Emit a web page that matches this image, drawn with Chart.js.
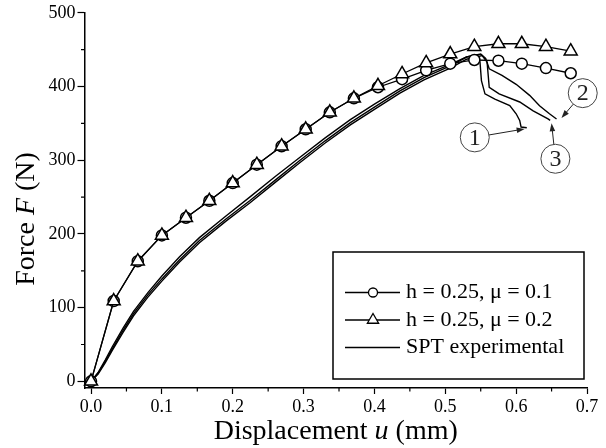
<!DOCTYPE html>
<html>
<head>
<meta charset="utf-8">
<script src="https://cdn.jsdelivr.net/npm/chart.js@4.4.1/dist/chart.umd.min.js"></script>
<style>
  html, body { margin: 0; padding: 0; background: #fff; }
  #wrap { width: 606px; height: 448px; }
</style>
</head>
<body>
<div id="wrap"><canvas id="forceChart" width="606" height="448"></canvas></div>
<script>
// FE results, sampled at the marker positions (mm / N)
const dispSim   = [0, 0.032, 0.066, 0.100, 0.134, 0.167, 0.200, 0.234, 0.269, 0.303, 0.337,
                   0.371, 0.405, 0.439, 0.473, 0.507, 0.541, 0.575, 0.608, 0.642, 0.677];
const forceMu01 = [0, 109, 163, 198, 222, 245, 269, 294, 319, 342, 365,
                   384, 399, 410, 422, 431, 436, 435, 431, 425, 418];
const forceMu02 = [0, 109, 163, 198, 222, 245, 269, 294, 319, 342, 365,
                   384, 401, 417, 432, 444, 454, 458, 458, 454, 448];

// small punch test records (three specimens)
const dispExp1  = [0, 0.010, 0.020, 0.030, 0.045, 0.060, 0.080, 0.100, 0.125, 0.153, 0.190, 0.224, 0.260,
                   0.295, 0.330, 0.366, 0.400, 0.436, 0.470, 0.507, 0.530, 0.545, 0.549, 0.551, 0.556,
                   0.570, 0.591, 0.600, 0.605, 0.607, 0.615];
const forceExp1 = [0, 11, 27, 44, 69, 92, 117, 139, 165, 191, 220, 245, 273,
                   300, 326, 351, 372, 394, 412, 428, 440, 443, 433, 408, 390,
                   383, 374, 363, 354, 345, 344];
const dispExp2  = [0, 0.010, 0.020, 0.030, 0.045, 0.060, 0.080, 0.100, 0.125, 0.153, 0.190, 0.224, 0.260,
                   0.295, 0.330, 0.366, 0.400, 0.436, 0.470, 0.507, 0.530, 0.550, 0.557, 0.562, 0.580,
                   0.600, 0.619, 0.633, 0.647, 0.657];
const forceExp2 = [0, 12, 29, 47, 72, 95, 120, 143, 169, 195, 224, 250, 278,
                   304, 330, 355, 376, 397, 415, 430, 440, 444, 438, 424, 415,
                   403, 388, 374, 363, 356];
const dispExp3  = [0, 0.010, 0.020, 0.030, 0.045, 0.060, 0.080, 0.100, 0.125, 0.153, 0.190, 0.224, 0.260,
                   0.295, 0.330, 0.366, 0.400, 0.436, 0.470, 0.507, 0.530, 0.552, 0.559, 0.562, 0.576,
                   0.605, 0.624, 0.645, 0.648];
const forceExp3 = [0, 10, 25, 42, 66, 89, 114, 136, 162, 188, 217, 242, 270,
                   297, 323, 348, 369, 391, 409, 425, 437, 442, 433, 399, 390,
                   379, 367, 356, 354];

const xTicks = [0, 0.1, 0.2, 0.3, 0.4, 0.5, 0.6, 0.7];
const xMinor = [0.05, 0.15, 0.25, 0.35, 0.45, 0.55, 0.65];
const yTicks = [0, 100, 200, 300, 400, 500];
const yMinor = [50, 150, 250, 350, 450];

const seriesLabels = ['h = 0.25, \u03bc = 0.1', 'h = 0.25, \u03bc = 0.2', 'SPT experimental'];

// numbered callouts for the three test curves (data units)
const callouts = [
  { n: '1', at: [0.5416, 331], tip: [0.612, 342.5] },
  { n: '2', at: [0.694, 391],  tip: [0.664, 357.4] },
  { n: '3', at: [0.6554, 302], tip: [0.650, 350] }
];

const SERIF = '"Liberation Serif", "DejaVu Serif", serif';

function pts(xs, ys) {
  return xs.map((x, i) => ({ x: x, y: ys[i] }));
}

function expLine(xs, ys) {
  return {
    data: pts(xs, ys),
    borderColor: '#000',
    borderWidth: 1.4,
    pointRadius: 0,
    fill: false,
    tension: 0,
    order: 3
  };
}

// short minor ticks between the labelled ones
const minorTicks = {
  id: 'minorTicks',
  afterDraw(chart) {
    const ctx = chart.ctx, a = chart.chartArea;
    const xs = chart.scales.x, ys = chart.scales.y;
    ctx.save();
    ctx.strokeStyle = '#000';
    ctx.lineWidth = 1.2;
    ctx.beginPath();
    xMinor.forEach(v => {
      const px = xs.getPixelForValue(v);
      ctx.moveTo(px, a.bottom);
      ctx.lineTo(px, a.bottom + 3.5);
    });
    yMinor.forEach(v => {
      const py = ys.getPixelForValue(v);
      ctx.moveTo(a.left, py);
      ctx.lineTo(a.left - 3.5, py);
    });
    ctx.stroke();
    ctx.restore();
  }
};

// draw a run of text pieces, some italic, centred on 0
function drawPieces(ctx, pieces, size) {
  let total = 0;
  pieces.forEach(p => {
    ctx.font = (p.it ? 'italic ' : '') + size + 'px ' + SERIF;
    p.w = ctx.measureText(p.t).width;
    total += p.w;
  });
  let x = -total / 2;
  pieces.forEach(p => {
    ctx.font = (p.it ? 'italic ' : '') + size + 'px ' + SERIF;
    ctx.fillText(p.t, x, 0);
    x += p.w;
  });
}

const axisTitles = {
  id: 'axisTitles',
  afterDraw(chart) {
    const ctx = chart.ctx, a = chart.chartArea;
    ctx.save();
    ctx.fillStyle = '#000';
    ctx.textBaseline = 'middle';
    ctx.textAlign = 'left';
    ctx.save();
    ctx.translate((a.left + a.right) / 2, 432);
    drawPieces(ctx, [{ t: 'Displacement ' }, { t: 'u', it: true }, { t: ' (mm)' }], 28);
    ctx.restore();
    ctx.save();
    ctx.translate(27, 219);
    ctx.rotate(-Math.PI / 2);
    drawPieces(ctx, [{ t: 'Force ' }, { t: 'F', it: true }, { t: ' (N)' }], 28);
    ctx.restore();
    ctx.restore();
  }
};

function marker(ctx, style, x, y, r) {
  ctx.beginPath();
  if (style === 'circle') {
    ctx.arc(x, y, r, 0, Math.PI * 2);
  } else {
    for (let k = 0; k < 3; k++) {
      const ang = k * 2 * Math.PI / 3;
      const px = x + Math.sin(ang) * r, py = y - Math.cos(ang) * r;
      if (k === 0) ctx.moveTo(px, py); else ctx.lineTo(px, py);
    }
    ctx.closePath();
  }
  ctx.fillStyle = '#fff';
  ctx.fill();
  ctx.stroke();
}

const legendBox = {
  id: 'legendBox',
  afterDraw(chart) {
    const ctx = chart.ctx, a = chart.chartArea;
    const right = a.right - 3, bottom = a.bottom - 9;
    const left = right - 251, top = bottom - 127;
    ctx.save();
    ctx.strokeStyle = '#000';
    ctx.lineWidth = 1.5;
    ctx.fillStyle = '#fff';
    ctx.fillRect(left, top, right - left, bottom - top);
    ctx.strokeRect(left, top, right - left, bottom - top);
    const styles = ['circle', 'triangle', null];
    const sizes = [4.5, 6.5, 0];
    styles.forEach((st, i) => {
      const y = top + 40.5 + i * 27.5;
      ctx.lineWidth = 1.3;
      ctx.beginPath();
      ctx.moveTo(left + 12, y);
      ctx.lineTo(left + 67, y);
      ctx.stroke();
      if (st) marker(ctx, st, left + 40, y, sizes[i]);
      ctx.fillStyle = '#000';
      ctx.font = '22px ' + SERIF;
      ctx.textBaseline = 'middle';
      ctx.fillText(seriesLabels[i], left + 73, y);
    });
    ctx.restore();
  }
};

const calloutMarks = {
  id: 'calloutMarks',
  afterDatasetsDraw(chart) {
    const ctx = chart.ctx, xs = chart.scales.x, ys = chart.scales.y;
    const r = 14.5;
    ctx.save();
    callouts.forEach(c => {
      const cx = xs.getPixelForValue(c.at[0]), cy = ys.getPixelForValue(c.at[1]);
      const tx = xs.getPixelForValue(c.tip[0]), ty = ys.getPixelForValue(c.tip[1]);
      ctx.strokeStyle = '#444';
      ctx.lineWidth = 1;
      ctx.beginPath();
      ctx.arc(cx, cy, r, 0, Math.PI * 2);
      ctx.stroke();
      ctx.fillStyle = '#222';
      ctx.font = '24px ' + SERIF;
      ctx.textAlign = 'center';
      ctx.textBaseline = 'middle';
      ctx.fillText(c.n, cx, cy + 1);
      // arrow from the circle edge to the curve end
      const dx = tx - cx, dy = ty - cy, len = Math.hypot(dx, dy);
      const ux = dx / len, uy = dy / len;
      const sx = cx + ux * r, sy = cy + uy * r;
      ctx.strokeStyle = '#222';
      ctx.beginPath();
      ctx.moveTo(sx, sy);
      ctx.lineTo(tx - ux * 5, ty - uy * 5);
      ctx.stroke();
      ctx.beginPath();
      ctx.moveTo(tx, ty);
      ctx.lineTo(tx - ux * 8 - uy * 2.8, ty - uy * 8 + ux * 2.8);
      ctx.lineTo(tx - ux * 8 + uy * 2.8, ty - uy * 8 - ux * 2.8);
      ctx.closePath();
      ctx.fill();
    });
    ctx.restore();
  }
};

new Chart(document.getElementById('forceChart'), {
  type: 'line',
  data: {
    datasets: [
      {
        label: seriesLabels[0],
        data: pts(dispSim, forceMu01),
        borderColor: '#000',
        borderWidth: 1.3,
        pointStyle: 'circle',
        pointRadius: 5.5,
        pointBorderWidth: 1.5,
        pointBackgroundColor: '#fff',
        pointBorderColor: '#000',
        clip: false,
        order: 2
      },
      {
        label: seriesLabels[1],
        data: pts(dispSim, forceMu02),
        borderColor: '#000',
        borderWidth: 1.3,
        pointStyle: 'triangle',
        pointRadius: 7.5,
        pointBorderWidth: 1.5,
        pointBackgroundColor: '#fff',
        pointBorderColor: '#000',
        clip: false,
        order: 1
      },
      Object.assign({ label: seriesLabels[2] }, expLine(dispExp1, forceExp1)),
      expLine(dispExp2, forceExp2),
      expLine(dispExp3, forceExp3)
    ]
  },
  options: {
    responsive: false,
    devicePixelRatio: 1,
    animation: false,
    layout: { padding: { top: 12, right: 19, left: 0, bottom: 0 } },
    plugins: { legend: { display: false }, tooltip: { enabled: false } },
    scales: {
      x: {
        type: 'linear',
        min: -0.0092,
        max: 0.7,
        afterBuildTicks: s => { s.ticks = xTicks.map(v => ({ value: v })); },
        afterFit: s => { s.height = 60; },
        grid: { drawOnChartArea: false, color: '#000', tickColor: '#000', tickLength: 6, tickWidth: 1.2 },
        border: { color: '#000', width: 1.5 },
        ticks: {
          color: '#000',
          padding: 2,
          maxRotation: 0,
          font: { family: SERIF, size: 18 },
          callback: v => v.toFixed(1)
        }
      },
      y: {
        type: 'linear',
        min: -9,
        max: 500,
        afterBuildTicks: s => { s.ticks = yTicks.map(v => ({ value: v })); },
        afterFit: s => { s.width = 84.5; },
        grid: { drawOnChartArea: false, color: '#000', tickColor: '#000', tickLength: 7, tickWidth: 1.2 },
        border: { color: '#000', width: 1.5 },
        ticks: {
          color: '#000',
          padding: 2,
          font: { family: SERIF, size: 18 },
          callback: v => String(v)
        }
      }
    }
  },
  plugins: [minorTicks, axisTitles, legendBox, calloutMarks]
});
</script>
</body>
</html>
